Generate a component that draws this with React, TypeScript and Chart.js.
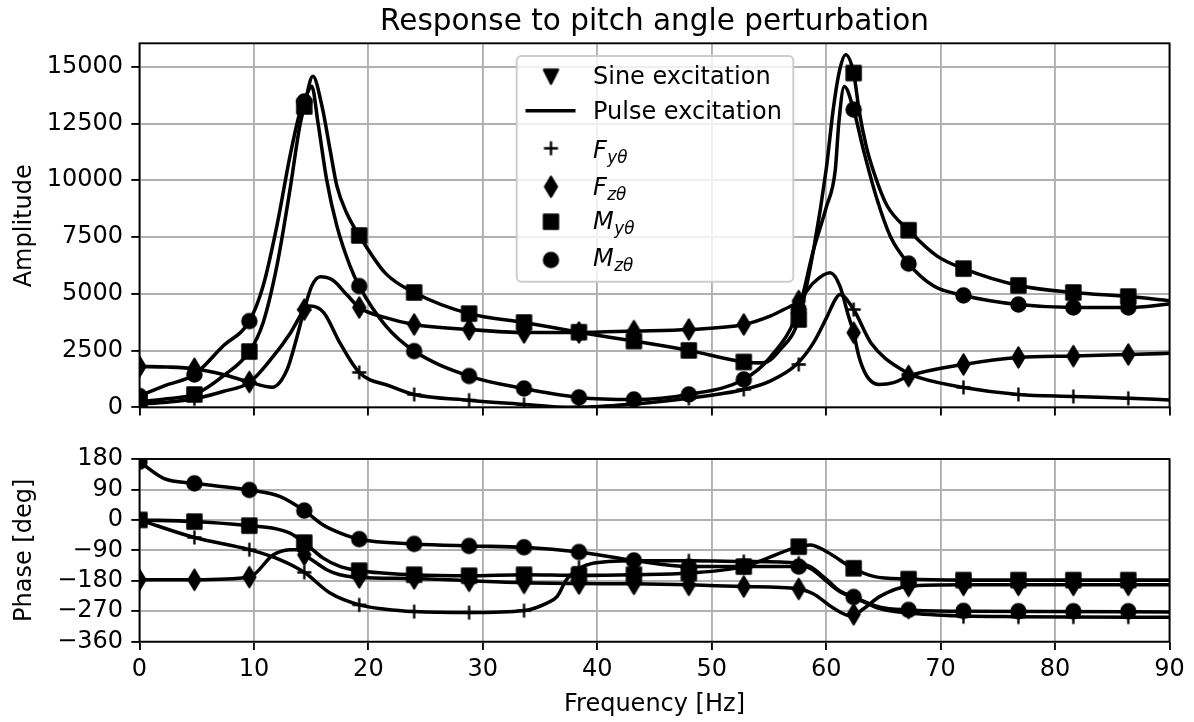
import React, { useEffect, useRef } from "react";
import { Chart, registerables } from "chart.js";

Chart.register(...registerables);

// ---------------- data ----------------
const TITLE = "Response to pitch angle perturbation";
const X_LABEL = "Frequency [Hz]";
const Y_LABEL_TOP = "Amplitude";
const Y_LABEL_BOT = "Phase [deg]";

const xTicks = [0, 10, 20, 30, 40, 50, 60, 70, 80, 90];
const ampTicks = [0, 2500, 5000, 7500, 10000, 12500, 15000];
const phaseTicks = [-360, -270, -180, -90, 0, 90, 180];
const AMP_MAX = 16030;

// sine excitation (markers)
const freqSine = [0, 4.8, 9.6, 14.4, 19.2, 24, 28.8, 33.6, 38.4, 43.2, 48, 52.8, 57.6, 62.4, 67.2, 72, 76.8, 81.6, 86.4];
const fyAmpSine = [150, 380, 1100, 4300, 1540, 570, 320, 130, 10, 150, 400, 790, 1890, 4310, 1450, 880, 570, 480, 400];
const fzAmpSine = [1800, 1700, 1120, 4310, 4400, 3650, 3430, 3300, 3300, 3360, 3430, 3650, 4680, 3290, 1380, 1890, 2200, 2260, 2330];
const myAmpSine = [280, 570, 2460, 13250, 7570, 5060, 4130, 3740, 3310, 2920, 2510, 2000, 3870, 14720, 7800, 6110, 5370, 5060, 4880];
const mzAmpSine = [500, 1450, 3800, 13470, 5340, 2480, 1380, 830, 440, 350, 570, 1230, 4310, 13110, 6330, 4930, 4530, 4400, 4400];

const fyPhSine = [0, -52, -88, -155, -251, -271, -274, -268, -140, -121, -121, -123, -128, -228, -272, -286, -287, -287, -287];
const fzPhSine = [-177, -177, -169, -103, -170, -173, -180, -186, -188, -189, -192, -197, -204, -279, -195, -192, -192, -192, -192];
const myPhSine = [0, -5, -17, -67, -150, -162, -165, -162, -164, -162, -157, -138, -79, -143, -175, -178, -178, -178, -178];
const mzPhSine = [172, 108, 88.5, 27.5, -57, -71, -77, -81, -95, -120, -138, -138, -138, -228, -266, -269, -270, -270, -270];

// pulse excitation (lines)
const fyAmpF = [0, 2.4, 4.8, 7.3, 9.6, 11.7, 13.2, 14.4, 14.9, 16.1, 17.5, 19.2, 21.9, 24, 28.8, 33.6, 36.5, 38.4, 43.2, 48, 52.8, 55.1, 57.4, 58.9, 60.1, 60.8, 61.2, 62.4, 63.9, 66.8, 68.2, 72, 76.8, 81.6, 86.4, 90];
const fyAmpV = [150, 230, 380, 700, 1100, 2260, 3290, 4300, 4460, 4170, 2850, 1540, 940, 570, 320, 130, 20, 10, 150, 400, 790, 1160, 1890, 2850, 4020, 4750, 4970, 4310, 2850, 1600, 1300, 880, 570, 480, 400, 330];

const fzAmpF = [0, 2.4, 4.8, 7.3, 9.6, 11.6, 12.9, 13.7, 14.4, 15.05, 15.8, 16.9, 18.1, 19.2, 21.5, 24, 28.8, 33.6, 38.4, 43.2, 48, 52.8, 55.1, 56.3, 57.6, 58.9, 60.35, 61.2, 61.95, 62.4, 62.85, 63.55, 64.6, 65.9, 67.2, 72, 76.8, 81.6, 86.4, 90];
const fzAmpV = [1800, 1780, 1700, 1450, 1120, 890, 1670, 2990, 4310, 5340, 5750, 5600, 4970, 4400, 3950, 3650, 3430, 3300, 3300, 3360, 3430, 3650, 4020, 4310, 4680, 5490, 5925, 5340, 4020, 3290, 2260, 1380, 1010, 1090, 1380, 1890, 2200, 2260, 2330, 2380];

const myAmpF = [0, 2.4, 4.8, 7.3, 9.6, 10.8, 12.0, 13.15, 14.0, 14.4, 15.15, 15.95, 16.65, 17.25, 18.1, 19.2, 21.5, 24, 28.8, 33.6, 38.4, 43.2, 48, 52.8, 54.5, 56.0, 57.6, 58.9, 60.0, 60.65, 61.2, 61.7, 62.4, 62.9, 63.5, 64.2, 65.3, 67.2, 69.7, 72, 76.8, 81.6, 86.4, 90];
const myAmpV = [250, 380, 570, 1380, 2460, 3730, 6220, 9590, 12380, 13250, 14580, 13250, 11350, 9740, 8560, 7570, 5900, 5060, 4130, 3740, 3310, 2920, 2510, 2000, 1960, 2550, 3870, 6950, 10470, 13250, 14900, 15530, 14720, 13000, 11500, 10300, 8900, 7800, 6660, 6110, 5370, 5060, 4880, 4700];

const mzAmpF = [0, 2.1, 4.8, 7.3, 9.6, 10.8, 12.0, 13.15, 14.0, 14.4, 15.05, 15.6, 16.35, 17.25, 18.4, 19.2, 21.5, 24, 28.8, 33.6, 38.4, 43.2, 48, 52.8, 55.1, 57.6, 58.9, 60.0, 60.8, 61.1, 61.58, 62.4, 63.25, 64.45, 65.6, 67.2, 69.4, 72, 76.8, 81.6, 86.4, 90];
const mzAmpV = [500, 940, 1450, 2700, 3800, 5340, 7980, 11060, 12960, 13470, 14140, 12520, 10030, 7980, 6220, 5340, 3600, 2480, 1380, 830, 440, 350, 570, 1230, 2200, 4310, 6950, 8800, 10470, 12500, 14130, 13110, 11350, 9150, 7540, 6330, 5340, 4930, 4530, 4400, 4400, 4550];

const fyPhF = [0, 4.8, 9.6, 12.3, 14.4, 16.65, 19.2, 21.5, 24, 28.8, 33.6, 35.6, 36.5, 37.3, 38.1, 39.4, 43.2, 48, 52.8, 57.6, 58.6, 60.1, 61.2, 62.4, 64.7, 67.2, 72, 76.8, 81.6, 90];
const fyPhV = [0, -52, -88, -118, -155, -216, -251, -264, -271, -274, -268, -246, -226, -177, -150, -130, -121, -121, -123, -128, -138, -178, -210, -228, -262, -275, -284, -286, -287, -288];

const fzPhF = [0, 4.8, 9.6, 11.7, 13.15, 13.75, 14.4, 15.5, 16.4, 17.5, 19.2, 24, 28.8, 33.6, 38.4, 43.2, 48, 52.8, 57.6, 58.9, 60.65, 62.2, 63.3, 64.7, 67.2, 72, 90];
const fzPhV = [-177, -177, -169, -103, -88.5, -88, -103, -128, -148, -162, -170, -173, -180, -186, -188, -189, -192, -197, -204, -219, -261, -284, -262, -226, -196, -192, -192];

const myPhF = [0, 4.8, 9.6, 11.7, 13.15, 14.4, 16.05, 17.55, 19.2, 24, 28.8, 33.6, 38.4, 43.2, 48, 52.8, 57.6, 58.6, 60.05, 62.35, 64.15, 67.2, 72, 90];
const myPhV = [0, -5, -17, -24.5, -39, -67, -113, -138, -150, -162, -165, -162, -164, -162, -157, -138, -79, -74, -94, -143, -167, -175, -178, -178];

const mzPhF = [0, 2.1, 4.8, 9.6, 12.3, 14.4, 16.05, 17.55, 19.2, 24, 28.8, 33.6, 38.4, 43.2, 48, 52.8, 57.6, 58.6, 60.05, 61.2, 62.4, 64.7, 67.2, 72, 90];
const mzPhV = [172, 123, 108, 88.5, 69, 27.5, -15, -39, -57, -71, -77, -81, -95, -120, -138, -138, -138, -143, -182, -212, -228, -258, -266, -270, -272];

const legendMain = ["Sine excitation", "Pulse excitation", "F", "F", "M", "M"];
const legendSub = ["", "", "y\u03b8", "z\u03b8", "y\u03b8", "z\u03b8"];

// ---------------- style / geometry ----------------
const FONT = "'DejaVu Sans', 'Liberation Sans', sans-serif";
const W = 1194;
const TOP_H = 430;
const BOT_H = 292;
const PLOT_L = 139.5;
const PLOT_R = 1169.5;
const TOP_T = 43.3;
const TOP_B = 408.3;
const BOT_T = 459 - TOP_H;
const BOT_B = 641.7 - TOP_H;
const PT = 2.35;
const LW = 1.5 * PT;
const GRID_W = 0.8 * PT;
const MS = 6 * PT;
const FS = 24;
const TITLE_FS = 29.5;

function makeMarker(kind: string): HTMLCanvasElement {
  const lw = PT;
  const c = document.createElement("canvas");
  let w = Math.ceil(MS + lw + 2);
  let h = w;
  if (kind === "d") {
    w = Math.ceil(MS * Math.SQRT2 * 0.6 + lw + 2);
    h = Math.ceil(MS * Math.SQRT2 + lw + 2);
  }
  c.width = w;
  c.height = h;
  const ctx = c.getContext("2d")!;
  ctx.translate(w / 2, h / 2);
  ctx.fillStyle = "#000";
  ctx.strokeStyle = "#000";
  ctx.lineWidth = lw;
  ctx.lineJoin = "round";
  ctx.beginPath();
  if (kind === "+") {
    ctx.moveTo(-MS / 2, 0);
    ctx.lineTo(MS / 2, 0);
    ctx.moveTo(0, -MS / 2);
    ctx.lineTo(0, MS / 2);
    ctx.stroke();
    return c;
  }
  if (kind === "s") ctx.rect(-MS / 2, -MS / 2, MS, MS);
  else if (kind === "o") ctx.arc(0, 0, MS / 2, 0, Math.PI * 2);
  else if (kind === "d") {
    const hh = (MS * Math.SQRT2) / 2;
    const hw = hh * 0.6;
    ctx.moveTo(0, -hh);
    ctx.lineTo(hw, 0);
    ctx.lineTo(0, hh);
    ctx.lineTo(-hw, 0);
    ctx.closePath();
  } else if (kind === "v") {
    ctx.moveTo(-MS / 2, -MS / 2);
    ctx.lineTo(MS / 2, -MS / 2);
    ctx.lineTo(0, MS / 2);
    ctx.closePath();
  }
  ctx.fill();
  ctx.stroke();
  return c;
}

const pts = (f: number[], v: number[]) => f.map((x, i) => ({ x, y: v[i] }));

function lineDs(f: number[], v: number[]) {
  return {
    data: pts(f, v),
    borderColor: "#000",
    borderWidth: LW,
    pointRadius: 0,
    cubicInterpolationMode: "monotone",
    fill: false,
    clip: 0,
  };
}
function markDs(v: number[], marker: HTMLCanvasElement) {
  return {
    data: pts(freqSine, v),
    showLine: false,
    pointStyle: marker,
    pointRadius: 7,
    borderColor: "#000",
    backgroundColor: "#000",
    clip: 0,
  };
}

const gridOpts = {
  color: "#b0b0b0",
  lineWidth: GRID_W,
  tickColor: "#000",
  tickWidth: GRID_W,
  tickLength: 8.2,
  drawTicks: true,
};

const fmtTick = (v: number) => (v < 0 ? "\u2212" + Math.abs(v) : String(v));

function drawFrame(chart: any) {
  const { ctx, chartArea: a } = chart;
  ctx.save();
  ctx.strokeStyle = "#000";
  ctx.lineWidth = GRID_W;
  ctx.strokeRect(a.left, a.top, a.right - a.left, a.bottom - a.top);
  ctx.restore();
}

function drawYLabel(ctx: CanvasRenderingContext2D, text: string, cy: number) {
  ctx.save();
  ctx.fillStyle = "#000";
  ctx.font = `${FS}px ${FONT}`;
  ctx.textAlign = "center";
  ctx.textBaseline = "alphabetic";
  ctx.translate(30.6, cy);
  ctx.rotate(-Math.PI / 2);
  ctx.fillText(text, 0, 0);
  ctx.restore();
}

function drawLegend(ctx: CanvasRenderingContext2D, markers: Record<string, HTMLCanvasElement>) {
  const x0 = 516.7, y0 = 56, x1 = 793.3, y1 = 281.7, r = 4.6;
  ctx.save();
  ctx.beginPath();
  ctx.moveTo(x0 + r, y0);
  ctx.lineTo(x1 - r, y0);
  ctx.arcTo(x1, y0, x1, y0 + r, r);
  ctx.lineTo(x1, y1 - r);
  ctx.arcTo(x1, y1, x1 - r, y1, r);
  ctx.lineTo(x0 + r, y1);
  ctx.arcTo(x0, y1, x0, y1 - r, r);
  ctx.lineTo(x0, y0 + r);
  ctx.arcTo(x0, y0, x0 + r, y0, r);
  ctx.closePath();
  ctx.fillStyle = "rgba(255,255,255,0.8)";
  ctx.fill();
  ctx.strokeStyle = "#cccccc";
  ctx.lineWidth = GRID_W;
  ctx.stroke();

  const handleX = 551;
  const markerY = [76.7, 110.7, 148.3, 186.7, 221.7, 260];
  const baseY = [83.6, 119.2, 158, 195, 228.5, 266];
  const kinds = ["v", "line", "+", "d", "s", "o"];
  const textX = 593;
  ctx.fillStyle = "#000";
  ctx.textBaseline = "alphabetic";
  ctx.textAlign = "left";
  for (let i = 0; i < kinds.length; i++) {
    const k = kinds[i];
    if (k === "line") {
      ctx.beginPath();
      ctx.strokeStyle = "#000";
      ctx.lineWidth = LW;
      ctx.moveTo(525.5, markerY[i]);
      ctx.lineTo(575.5, markerY[i]);
      ctx.stroke();
    } else {
      const m = markers[k];
      ctx.drawImage(m, handleX - m.width / 2, markerY[i] - m.height / 2);
    }
    if (legendSub[i]) {
      ctx.font = `italic ${FS}px ${FONT}`;
      ctx.fillText(legendMain[i], textX, baseY[i]);
      const w = ctx.measureText(legendMain[i]).width;
      ctx.font = `italic ${FS * 0.7}px ${FONT}`;
      ctx.fillText(legendSub[i], textX + w + 0.5, baseY[i] + 5);
    } else {
      ctx.font = `${FS}px ${FONT}`;
      ctx.fillText(legendMain[i], textX, baseY[i]);
    }
  }
  ctx.restore();
}

export default function App() {
  const topRef = useRef<HTMLCanvasElement>(null);
  const botRef = useRef<HTMLCanvasElement>(null);

  useEffect(() => {
    const markers: Record<string, HTMLCanvasElement> = {
      "+": makeMarker("+"),
      d: makeMarker("d"),
      s: makeMarker("s"),
      o: makeMarker("o"),
      v: makeMarker("v"),
    };

    const baseOpts = (padTop: number) => ({
      responsive: false,
      maintainAspectRatio: false,
      animation: false,
      devicePixelRatio: 1,
      events: [],
      layout: { padding: { left: 0, right: W - PLOT_R, top: padTop, bottom: 0 }, autoPadding: false },
      plugins: { legend: { display: false }, tooltip: { enabled: false }, title: { display: false } },
    });

    const tickFont = { family: FONT, size: FS };

    const topChart = new Chart(topRef.current!, {
      type: "line",
      data: {
        datasets: [
          lineDs(fyAmpF, fyAmpV),
          lineDs(fzAmpF, fzAmpV),
          lineDs(myAmpF, myAmpV),
          lineDs(mzAmpF, mzAmpV),
          markDs(fyAmpSine, markers["+"]),
          markDs(fzAmpSine, markers.d),
          markDs(myAmpSine, markers.s),
          markDs(mzAmpSine, markers.o),
        ] as any,
      },
      options: {
        ...baseOpts(TOP_T),
        scales: {
          x: {
            type: "linear",
            min: 0,
            max: 90,
            afterBuildTicks: (s: any) => { s.ticks = xTicks.map((v) => ({ value: v })); },
            afterFit: (s: any) => { s.height = TOP_H - TOP_B; },
            grid: gridOpts,
            border: { display: false },
            ticks: { display: false, autoSkip: false },
          },
          y: {
            type: "linear",
            min: 0,
            max: AMP_MAX,
            afterBuildTicks: (s: any) => { s.ticks = ampTicks.map((v) => ({ value: v })); },
            afterFit: (s: any) => { s.width = PLOT_L; },
            grid: gridOpts,
            border: { display: false },
            ticks: { color: "#000", font: tickFont, padding: 8.2, autoSkip: false, callback: (v: any) => fmtTick(v) },
          },
        },
      } as any,
      plugins: [
        {
          id: "topDecor",
          afterDatasetsDraw: (chart: any) => drawFrame(chart),
          afterDraw: (chart: any) => {
            const ctx = chart.ctx as CanvasRenderingContext2D;
            ctx.save();
            ctx.fillStyle = "#000";
            ctx.font = `${TITLE_FS}px ${FONT}`;
            ctx.textAlign = "center";
            ctx.textBaseline = "alphabetic";
            ctx.fillText(TITLE, (PLOT_L + PLOT_R) / 2, 29.5);
            ctx.restore();
            drawYLabel(ctx, Y_LABEL_TOP, (TOP_T + TOP_B) / 2);
            drawLegend(ctx, markers);
          },
        },
      ],
    });

    const botChart = new Chart(botRef.current!, {
      type: "line",
      data: {
        datasets: [
          lineDs(fyPhF, fyPhV),
          lineDs(fzPhF, fzPhV),
          lineDs(myPhF, myPhV),
          lineDs(mzPhF, mzPhV),
          markDs(fyPhSine, markers["+"]),
          markDs(fzPhSine, markers.d),
          markDs(myPhSine, markers.s),
          markDs(mzPhSine, markers.o),
        ] as any,
      },
      options: {
        ...baseOpts(BOT_T),
        scales: {
          x: {
            type: "linear",
            min: 0,
            max: 90,
            afterBuildTicks: (s: any) => { s.ticks = xTicks.map((v) => ({ value: v })); },
            afterFit: (s: any) => { s.height = BOT_H - BOT_B; },
            grid: gridOpts,
            border: { display: false },
            ticks: { color: "#000", font: tickFont, padding: 5, maxRotation: 0, autoSkip: false, callback: (v: any) => fmtTick(v) },
          },
          y: {
            type: "linear",
            min: -360,
            max: 180,
            afterBuildTicks: (s: any) => { s.ticks = phaseTicks.map((v) => ({ value: v })); },
            afterFit: (s: any) => { s.width = PLOT_L; },
            grid: gridOpts,
            border: { display: false },
            ticks: { color: "#000", font: tickFont, padding: 8.2, autoSkip: false, callback: (v: any) => fmtTick(v) },
          },
        },
      } as any,
      plugins: [
        {
          id: "botDecor",
          afterDatasetsDraw: (chart: any) => drawFrame(chart),
          afterDraw: (chart: any) => {
            const ctx = chart.ctx as CanvasRenderingContext2D;
            drawYLabel(ctx, Y_LABEL_BOT, (BOT_T + BOT_B) / 2);
            ctx.save();
            ctx.fillStyle = "#000";
            ctx.font = `${FS}px ${FONT}`;
            ctx.textAlign = "center";
            ctx.textBaseline = "alphabetic";
            ctx.fillText(X_LABEL, (PLOT_L + PLOT_R) / 2, 711 - TOP_H);
            ctx.restore();
          },
        },
      ],
    });

    return () => {
      topChart.destroy();
      botChart.destroy();
    };
  }, []);

  return (
    <div style={{ position: "absolute", left: 0, top: 0, width: W, height: TOP_H + BOT_H, background: "#fff" }}>
      <canvas ref={topRef} width={W} height={TOP_H} style={{ position: "absolute", left: 0, top: 0 }} />
      <canvas ref={botRef} width={W} height={BOT_H} style={{ position: "absolute", left: 0, top: TOP_H }} />
    </div>
  );
}
